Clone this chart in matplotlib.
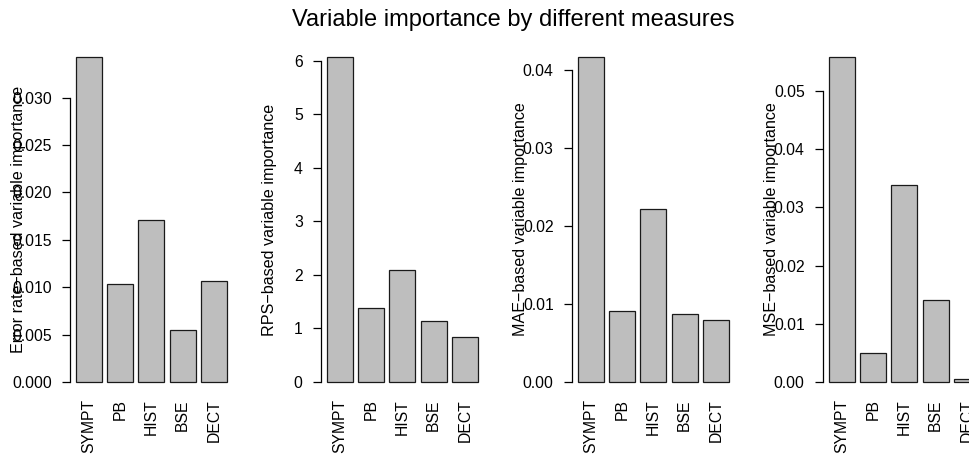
import numpy as np
import matplotlib
matplotlib.use("Agg")
import matplotlib.pyplot as plt

plt.rcParams['font.family'] = ['Liberation Sans', 'DejaVu Sans']

variabili = ["SYMPT", "PB", "HIST", "BSE", "DECT"]

err_rate = [0.0343, 0.0103, 0.0171, 0.0055, 0.0107]
rps = [6.07, 1.375, 2.10, 1.145, 0.84]
mae = [0.0417, 0.0091, 0.0222, 0.0087, 0.0079]
mse = [0.0558, 0.0049, 0.0339, 0.0141, 0.0005]

etichette_y = ["Error rate\u2212based variable importance",
               "RPS\u2212based variable importance",
               "MAE\u2212based variable importance",
               "MSE\u2212based variable importance"]
tick_y = [[0.000, 0.005, 0.010, 0.015, 0.020, 0.025, 0.030],
          [0, 1, 2, 3, 4, 5, 6],
          [0.00, 0.01, 0.02, 0.03, 0.04],
          [0.00, 0.01, 0.02, 0.03, 0.04, 0.05]]
formati = ["{:.3f}", "{:.0f}", "{:.2f}", "{:.2f}"]
misure = [err_rate, rps, mae, mse]

W, H = 970, 458
fig = plt.figure(figsize=(W / 100, H / 100), dpi=100)

# posizioni come in barplot di R: larghezza 1, spazio 0.2
centri = 0.2 + 0.5 + np.arange(5) * 1.2
fs = 11.3

for i, valori in enumerate(misure):
    left = 69.8 + 251 * i
    ax = fig.add_axes([left / W, (H - 395) / H, 168.5 / W, 351 / H])
    ax.bar(centri, valori, width=1, color='#bebebe', edgecolor='#1a1a1a', linewidth=0.9)
    top = max(valori)
    ax.set_xlim(-0.04, 6.44)
    ax.set_ylim(-0.04 * top, 1.04 * top)
    for s in ['top', 'right', 'bottom']:
        ax.spines[s].set_visible(False)
    ax.spines['left'].set_bounds(tick_y[i][0], tick_y[i][-1])
    ax.spines['left'].set_linewidth(0.9)
    ax.set_yticks(tick_y[i], [formati[i].format(t) for t in tick_y[i]], fontsize=fs)
    ax.tick_params(axis='y', length=6, width=0.9, pad=7)
    ax.set_xticks(centri, variabili, rotation=90, fontsize=fs, va='top')
    ax.tick_params(axis='x', length=0, pad=3)
    ax.text(-51 / 168.5, 0.5, etichette_y[i], transform=ax.transAxes, rotation=90,
            ha='center', va='center', fontsize=11.6)
    ax.set_facecolor('none')

fig.text(513 / W, 1 - 26 / H, "Variable importance by different measures",
         ha='center', va='baseline', fontsize=17)

fig.savefig("out.png", dpi=100)
